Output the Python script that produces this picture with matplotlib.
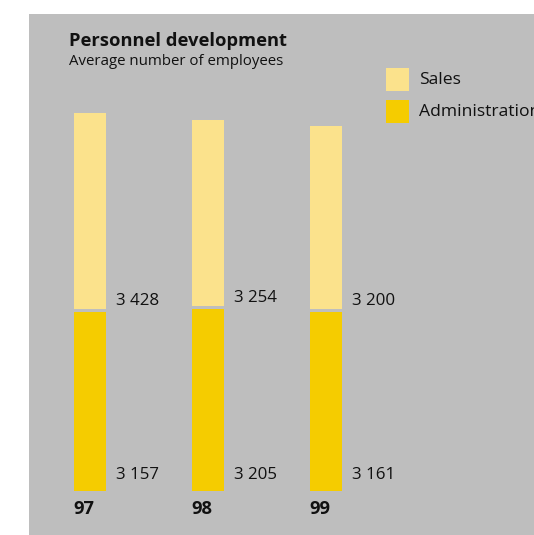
import matplotlib
matplotlib.use("Agg")
import matplotlib.pyplot as plt
from matplotlib.patches import Rectangle

# ---- data ----
years = ["97", "98", "99"]
administration = [3157, 3205, 3161]
sales = [3428, 3254, 3200]
series_names = ["Sales", "Administration"]
title = "Personnel development"
subtitle = "Average number of employees"

# ---- style ----
C_SALES = "#FBE28C"
C_ADMIN = "#F5CC00"
C_BG = "#BEBEBE"
FONT = "Open Sans"
plt.rcParams["font.family"] = [FONT, "DejaVu Sans"]

W, H = 534, 535
DPI = 100
fig = plt.figure(figsize=(W / DPI, H / DPI), dpi=DPI)
fig.patch.set_facecolor("white")

PT = 72.0 / DPI  # points per pixel


def fx(px):
    return px / W


def fy(py):
    return 1 - py / H


# grey panel
fig.patches.append(Rectangle((fx(29), 0), 1 - fx(29), fy(14), transform=fig.transFigure,
                             facecolor=C_BG, edgecolor="none", zorder=-10))

# axes covering grey panel (bottom at baseline y=491px)
ax = fig.add_axes([fx(29), fy(491), 1 - fx(29), fy(14) - fy(491)])
ax.set_zorder(5)
ax.set_facecolor("none")
for s in ax.spines.values():
    s.set_visible(False)
ax.set_xticks([])
ax.set_yticks([])

x = list(range(len(years)))
bw = 0.271
ax.bar(x, administration, width=bw, color=C_ADMIN, zorder=2)
ax.bar(x, sales, width=bw, bottom=administration, color=C_SALES, zorder=2)
# separator between segments
ax.hlines(administration, [xi - bw / 2 - 0.01 for xi in x], [xi + bw / 2 + 0.01 for xi in x],
          colors=C_BG, linewidth=3 * PT, zorder=3)

ax.set_xlim((29 - 90) / 118, (534 - 90) / 118)
ax.set_ylim(0, 477 / 0.0574)

for xi, a, s_, yr in zip(x, administration, sales, years):
    ax.annotate(f"{s_:,}".replace(",", " "), xy=(xi + bw / 2, a), xytext=(10 * PT, 9 * PT),
                textcoords="offset points", ha="left", va="center", fontsize=12.2, color="#111111")
    ax.annotate(f"{a:,}".replace(",", " "), xy=(xi + bw / 2, 0), xytext=(10 * PT, 16 * PT),
                textcoords="offset points", ha="left", va="center", fontsize=12.2, color="#111111")
    ax.annotate(yr, xy=(xi - bw / 2, 0), xytext=(-1 * PT, -18 * PT),
                textcoords="offset points", ha="left", va="center", fontsize=13.2,
                fontweight="bold", color="#111111")

# titles
fig.text(fx(69), fy(45.5), title, fontsize=13.2, fontweight="bold", ha="left", va="baseline",
         color="#111111")
fig.text(fx(69), fy(65), subtitle, fontsize=10.8, ha="left", va="baseline", color="#111111")

# legend
leg_colors = [C_SALES, C_ADMIN]
leg_tops = [68, 100]
for name, col, top in zip(series_names, leg_colors, leg_tops):
    fig.patches.append(Rectangle((fx(386), fy(top + 23)), fx(23), 23 / H,
                                 transform=fig.transFigure, facecolor=col, edgecolor="none"))
    fig.text(fx(419), fy(top + 12), name, fontsize=12.6, ha="left", va="center", color="#111111")

fig.savefig("out.png", dpi=DPI)
